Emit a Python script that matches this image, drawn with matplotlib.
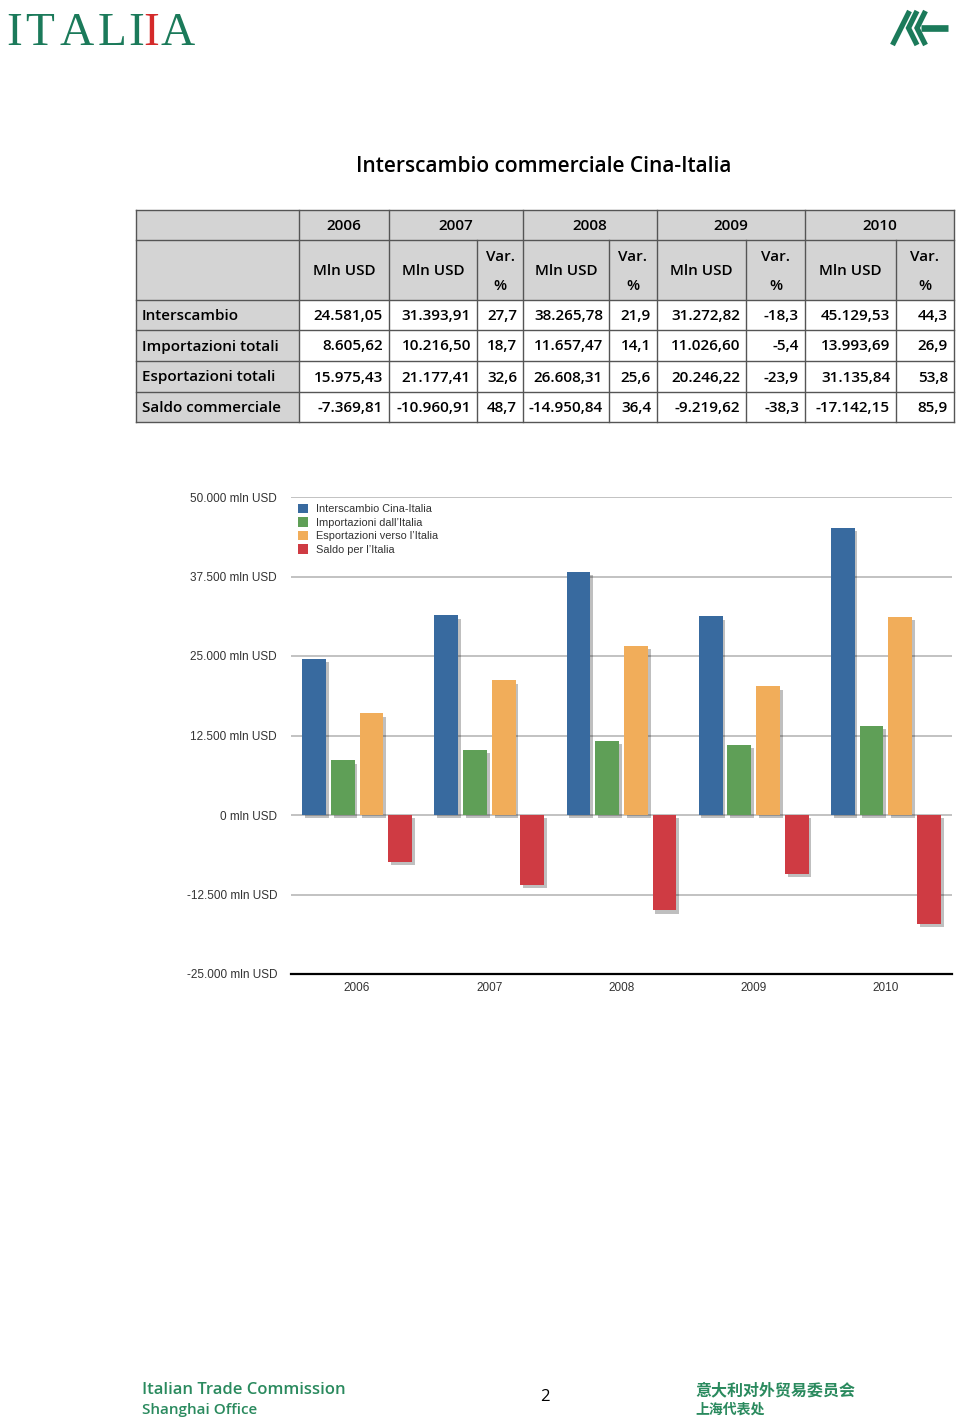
import matplotlib
matplotlib.use("Agg")
import matplotlib.pyplot as plt
import matplotlib.patheffects as pe
from matplotlib.patches import Rectangle
import numpy as np

plt.rcParams["font.family"] = ["Liberation Sans", "DejaVu Sans"]

# ---- data ----
years = ["2006", "2007", "2008", "2009", "2010"]
interscambio = [24581.05, 31393.91, 38265.78, 31272.82, 45129.53]
importazioni = [8605.62, 10216.50, 11657.47, 11026.60, 13993.69]
esportazioni = [15975.43, 21177.41, 26608.31, 20246.22, 31135.84]
saldo = [-7369.81, -10960.91, -14950.84, -9219.62, -17142.15]
var_interscambio = [27.7, 21.9, -18.3, 44.3]
var_importazioni = [18.7, 14.1, -5.4, 26.9]
var_esportazioni = [32.6, 25.6, -23.9, 53.8]
var_saldo = [48.7, 36.4, -38.3, 85.9]
row_labels = ["Interscambio", "Importazioni totali", "Esportazioni totali", "Saldo commerciale"]
legend_labels = ["Interscambio Cina-Italia", "Importazioni dall’Italia",
                 "Esportazioni verso l’Italia", "Saldo per l’Italia"]
yticks = [-25000, -12500, 0, 12500, 25000, 37500, 50000]
ytick_labels = ["-25.000 mln USD", "-12.500 mln USD", "0 mln USD", "12.500 mln USD",
                "25.000 mln USD", "37.500 mln USD", "50.000 mln USD"]

colors = ["#386a9f", "#5f9f57", "#f1ad5a", "#cf3b43"]
green = "#1b7a5a"
W, H = 960, 1426


def it_num(v, dec=2):
    s = f"{v:,.{dec}f}"
    return s.replace(",", "X").replace(".", ",").replace("X", ".")


fig = plt.figure(figsize=(W / 100, H / 100), dpi=100)

# overlay axes in pixel coordinates for header, table and footer
ov = fig.add_axes([0, 0, 1, 1])
ov.set_xlim(0, W)
ov.set_ylim(H, 0)
ov.axis("off")

# ITALIA logo
serif = ["Liberation Serif", "DejaVu Serif"]
for ch, x, c in zip("ITALIIA", [14, 40, 77, 112, 136, 151, 178],
                    [green] * 5 + ["#d42a2a", green]):
    ov.text(x, 45, ch, fontsize=34, family=serif, color=c, ha="center", va="baseline")

# right logo
lw = 3.8
ov.plot([892.5, 909.5], [45, 11], color=green, lw=lw, solid_capstyle="butt")
ov.plot([917, 908.5, 917], [11, 28, 45], color=green, lw=lw, solid_capstyle="butt", solid_joinstyle="miter")
ov.plot([925.5, 917, 925.5], [11, 28, 45], color=green, lw=lw, solid_capstyle="butt", solid_joinstyle="miter")
ov.plot([921, 948], [28, 28], color=green, lw=lw + 1, solid_capstyle="butt")

# title
tfont = ["Open Sans", "DejaVu Sans"]
ov.text(544, 167, "Interscambio commerciale Cina-Italia", fontsize=15, family=tfont,
        weight="semibold", ha="center", va="center")

# ---- table ----
cols = [136, 299, 389, 477, 523, 609, 657, 746, 805, 896, 954]
rows = [210, 240, 300, 330, 361, 392, 422]
gray = "#d4d4d4"
edge = "#555555"
ov.add_patch(Rectangle((cols[0], rows[0]), cols[-1] - cols[0], rows[2] - rows[0], facecolor=gray, edgecolor="none"))
ov.add_patch(Rectangle((cols[0], rows[2]), cols[1] - cols[0], rows[-1] - rows[2], facecolor=gray, edgecolor="none"))
for y in rows:
    ov.plot([cols[0], cols[-1]], [y, y], color=edge, lw=1.0)
year_bounds = [cols[0], cols[1], cols[2], cols[4], cols[6], cols[8], cols[10]]
for x in cols:
    if x in year_bounds:
        ov.plot([x, x], [rows[0], rows[-1]], color=edge, lw=1.0)
    else:
        ov.plot([x, x], [rows[1], rows[-1]], color=edge, lw=1.0)

fs = 11
kw = dict(fontsize=fs, family=tfont, weight="semibold")
for i, yr in enumerate(years):
    xc = (year_bounds[i + 1] + year_bounds[i + 2]) / 2
    ov.text(xc, 226, yr, ha="center", va="center", **kw)

mln_cols = [(cols[1], cols[2]), (cols[2], cols[3]), (cols[4], cols[5]), (cols[6], cols[7]), (cols[8], cols[9])]
var_cols = [(cols[3], cols[4]), (cols[5], cols[6]), (cols[7], cols[8]), (cols[9], cols[10])]
for a, b in mln_cols:
    ov.text((a + b) / 2, 271, "Mln USD", ha="center", va="center", **kw)
for a, b in var_cols:
    ov.text((a + b) / 2, 257, "Var.", ha="center", va="center", **kw)
    ov.text((a + b) / 2, 286, "%", ha="center", va="center", **kw)

vals = [interscambio, importazioni, esportazioni, saldo]
vars_ = [var_interscambio, var_importazioni, var_esportazioni, var_saldo]
for r in range(4):
    yc = (rows[r + 2] + rows[r + 3]) / 2 + 1
    ov.text(142, yc, row_labels[r], ha="left", va="center", **kw)
    for j, (a, b) in enumerate(mln_cols):
        ov.text(b - 6, yc, it_num(vals[r][j]), ha="right", va="center", **kw)
    for j, (a, b) in enumerate(var_cols):
        ov.text(b - 6, yc, it_num(vars_[r][j], 1), ha="right", va="center", **kw)

# ---- bar chart ----
ax = fig.add_axes([291 / W, 1 - 974 / H, (952 - 291) / W, (974 - 497) / H])
x = np.arange(len(years))
offsets = [-0.326, -0.109, 0.109, 0.326]
series = [interscambio, importazioni, esportazioni, saldo]
shadow = [pe.SimplePatchShadow(offset=(2, -2.5), shadow_rgbFace="#000000", alpha=0.25), pe.Normal()]
for s, off, c, lab in zip(series, offsets, colors, legend_labels):
    ax.bar(x + off, s, width=0.18, color=c, label=lab, zorder=3, path_effects=shadow)

ax.set_xlim(-0.5, 4.5)
ax.set_ylim(-25000, 50000)
ax.set_yticks(yticks)
ax.set_yticklabels(ytick_labels, fontsize=8.5, color="#333333")
ax.set_xticks(x)
ax.set_xticklabels(years, fontsize=8.5, color="#333333")
ax.tick_params(length=0)
ax.tick_params(axis="y", pad=10)
ax.tick_params(axis="x", pad=6)
ax.grid(axis="y", color="#b8b8b8", lw=1.2, zorder=0)
for sp in ["top", "right", "left"]:
    ax.spines[sp].set_visible(False)
ax.spines["bottom"].set_color("black")
ax.spines["bottom"].set_linewidth(1.6)
ax.spines["bottom"].set_zorder(4)

leg = ax.legend(loc="upper left", bbox_to_anchor=(0.0, 1.0), frameon=False, fontsize=7.9,
                handlelength=0.95, handleheight=0.95, handletextpad=0.7, labelspacing=0.28,
                borderaxespad=0.2)
for t in leg.get_texts():
    t.set_color("#333333")
for h in leg.legend_handles:
    h.set_path_effects([])

# ---- footer ----
ov.text(142, 1390, "Italian Trade Commission", fontsize=12, family=tfont, weight="semibold",
        color="#2a8a5e", ha="left", va="center")
ov.text(142, 1410, "Shanghai Office", fontsize=11, family=tfont, weight="semibold",
        color="#2a8a5e", ha="left", va="center")
ov.text(545, 1397, "2", fontsize=12, family=tfont, ha="center", va="center")
cjk = ["Noto Sans CJK SC", "DejaVu Sans"]
ov.text(695, 1390, "意大利对外贸易委员会", fontsize=11.5, family=cjk, weight="bold",
        color="#2a8a5e", ha="left", va="center")
ov.text(695, 1410, "上海代表处", fontsize=10, family=cjk, weight="bold",
        color="#2a8a5e", ha="left", va="center")

fig.savefig("out.png", dpi=100)
